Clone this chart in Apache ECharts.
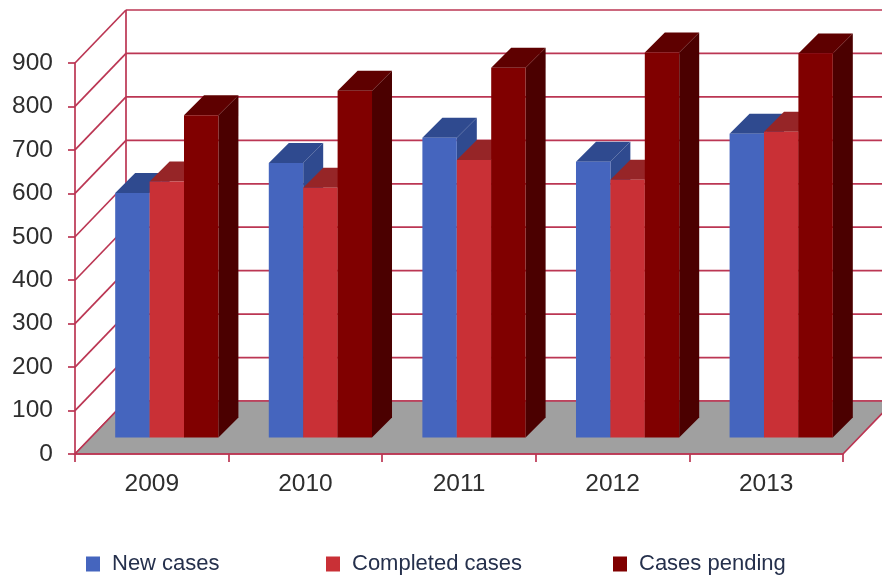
<!DOCTYPE html>
<html>
<head>
<meta charset="utf-8">
<title>Cases</title>
<script src="https://cdn.jsdelivr.net/npm/echarts@6/dist/echarts.min.js"></script>
<style>
  html, body { margin: 0; padding: 0; background: #fff; }
  #chart { width: 882px; height: 581px; filter: blur(0.4px); }
</style>
</head>
<body>
<div id="chart"></div>
<script>
const years = ['2009', '2010', '2011', '2012', '2013']
const newCases = [563, 632, 690, 635, 699]
const completedCases = [589, 575, 639, 593, 704]
const casesPending = [742, 798, 851, 886, 884]
const yTicks = [0, 100, 200, 300, 400, 500, 600, 700, 800, 900]

const textColor = '#2e2e2e'
const lineColor = '#bb3653'
const fontFamily = '"Liberation Sans", Arial, sans-serif'

// depth of the whole box, and how far the bars sit inside it
const boxDx = 51, boxDy = 53
const barShiftX = 15, barShiftY = 16.5
const barDepth = 20
const barWidthRatio = 0.224

function wallItem(params, api) {
  const cs = params.coordSys
  const y = api.coord([0, api.value(1)])[1]
  const style = { stroke: lineColor, lineWidth: 1.7, fill: null }
  const children = [
    { type: 'line', shape: { x1: cs.x, y1: y, x2: cs.x + boxDx, y2: y - boxDy }, style },
    { type: 'line', shape: { x1: cs.x + boxDx, y1: y - boxDy, x2: cs.x + cs.width + boxDx, y2: y - boxDy }, style }
  ]
  if (params.dataIndex === 0) {
    children.push({ type: 'line', shape: { x1: cs.x + boxDx, y1: y - boxDy, x2: cs.x + boxDx, y2: cs.y - boxDy }, style })
  }
  return { type: 'group', children }
}

function floorItem(params) {
  const cs = params.coordSys
  const y = cs.y + cs.height
  return {
    type: 'polygon',
    shape: { points: [[cs.x, y], [cs.x + boxDx, y - boxDy], [cs.x + cs.width + boxDx, y - boxDy], [cs.x + cs.width, y]] },
    style: { fill: '#a0a0a0', stroke: lineColor, lineWidth: 1.7 }
  }
}

function barRenderer(slot, front, top, side) {
  return function (params, api) {
    const pos = api.coord([api.value(0), api.value(1)])
    const base = api.coord([api.value(0), 0])
    const w = api.size([1, 0])[0] * barWidthRatio
    const x = pos[0] + barShiftX + (slot - 1.5) * w
    const yTop = pos[1] - barShiftY
    const yBot = base[1] - barShiftY
    const d = barDepth
    return {
      type: 'group',
      children: [
        { type: 'polygon', shape: { points: [[x + w, yTop], [x + w + d, yTop - d], [x + w + d, yBot - d], [x + w, yBot]] }, style: { fill: side } },
        { type: 'polygon', shape: { points: [[x, yTop], [x + d, yTop - d], [x + w + d, yTop - d], [x + w, yTop]] }, style: { fill: top } },
        { type: 'rect', shape: { x: x, y: yTop, width: w, height: yBot - yTop }, style: { fill: front } }
      ]
    }
  }
}

function legendAt(name, left) {
  return {
    data: [name],
    left: left,
    top: 553,
    icon: 'rect',
    itemWidth: 14,
    itemHeight: 15,
    itemGap: 0,
    padding: 0,
    selectedMode: false,
    textStyle: { color: '#25304c', fontSize: 22, fontFamily: fontFamily, padding: [0, 0, 0, 7] }
  }
}

const chart = echarts.init(document.getElementById('chart'), null, { renderer: 'canvas' })
chart.setOption({
  animation: false,
  backgroundColor: '#ffffff',
  grid: { left: 75, right: 39, top: 63, bottom: 127 },
  legend: [legendAt('New cases', 86), legendAt('Completed cases', 326), legendAt('Cases pending', 613)],
  xAxis: {
    type: 'category',
    data: years,
    z: 5,
    axisLine: { lineStyle: { color: lineColor, width: 1.7 } },
    axisTick: { show: true, alignWithLabel: false, length: 8, lineStyle: { color: lineColor, width: 1.7 } },
    axisLabel: { color: textColor, fontSize: 24.5, fontFamily: fontFamily, margin: 18 }
  },
  yAxis: {
    type: 'value',
    min: 0,
    max: 900,
    interval: 100,
    z: 5,
    splitLine: { show: false },
    axisLine: { show: true, lineStyle: { color: lineColor, width: 1.7 } },
    axisTick: { show: true, length: 7, lineStyle: { color: lineColor, width: 1.7 } },
    axisLabel: { color: textColor, fontSize: 24.5, fontFamily: fontFamily, margin: 22 }
  },
  series: [
    { type: 'custom', name: 'walls', z: 1, renderItem: wallItem, data: yTicks.map(v => [0, v]), silent: true },
    { type: 'custom', name: 'floor', z: 2, renderItem: floorItem, data: [[0, 0]], silent: true },
    { type: 'custom', name: 'New cases', z: 3, renderItem: barRenderer(0, '#4565be', '#2f4a8f', '#2f4a8f'), itemStyle: { color: '#4565be' }, data: newCases.map((v, i) => [i, v]) },
    { type: 'custom', name: 'Completed cases', z: 3, renderItem: barRenderer(1, '#c93036', '#962527', '#962527'), itemStyle: { color: '#c93036' }, data: completedCases.map((v, i) => [i, v]) },
    { type: 'custom', name: 'Cases pending', z: 3, renderItem: barRenderer(2, '#800000', '#5e0000', '#4b0000'), itemStyle: { color: '#800000' }, data: casesPending.map((v, i) => [i, v]) }
  ]
})
</script>
</body>
</html>
